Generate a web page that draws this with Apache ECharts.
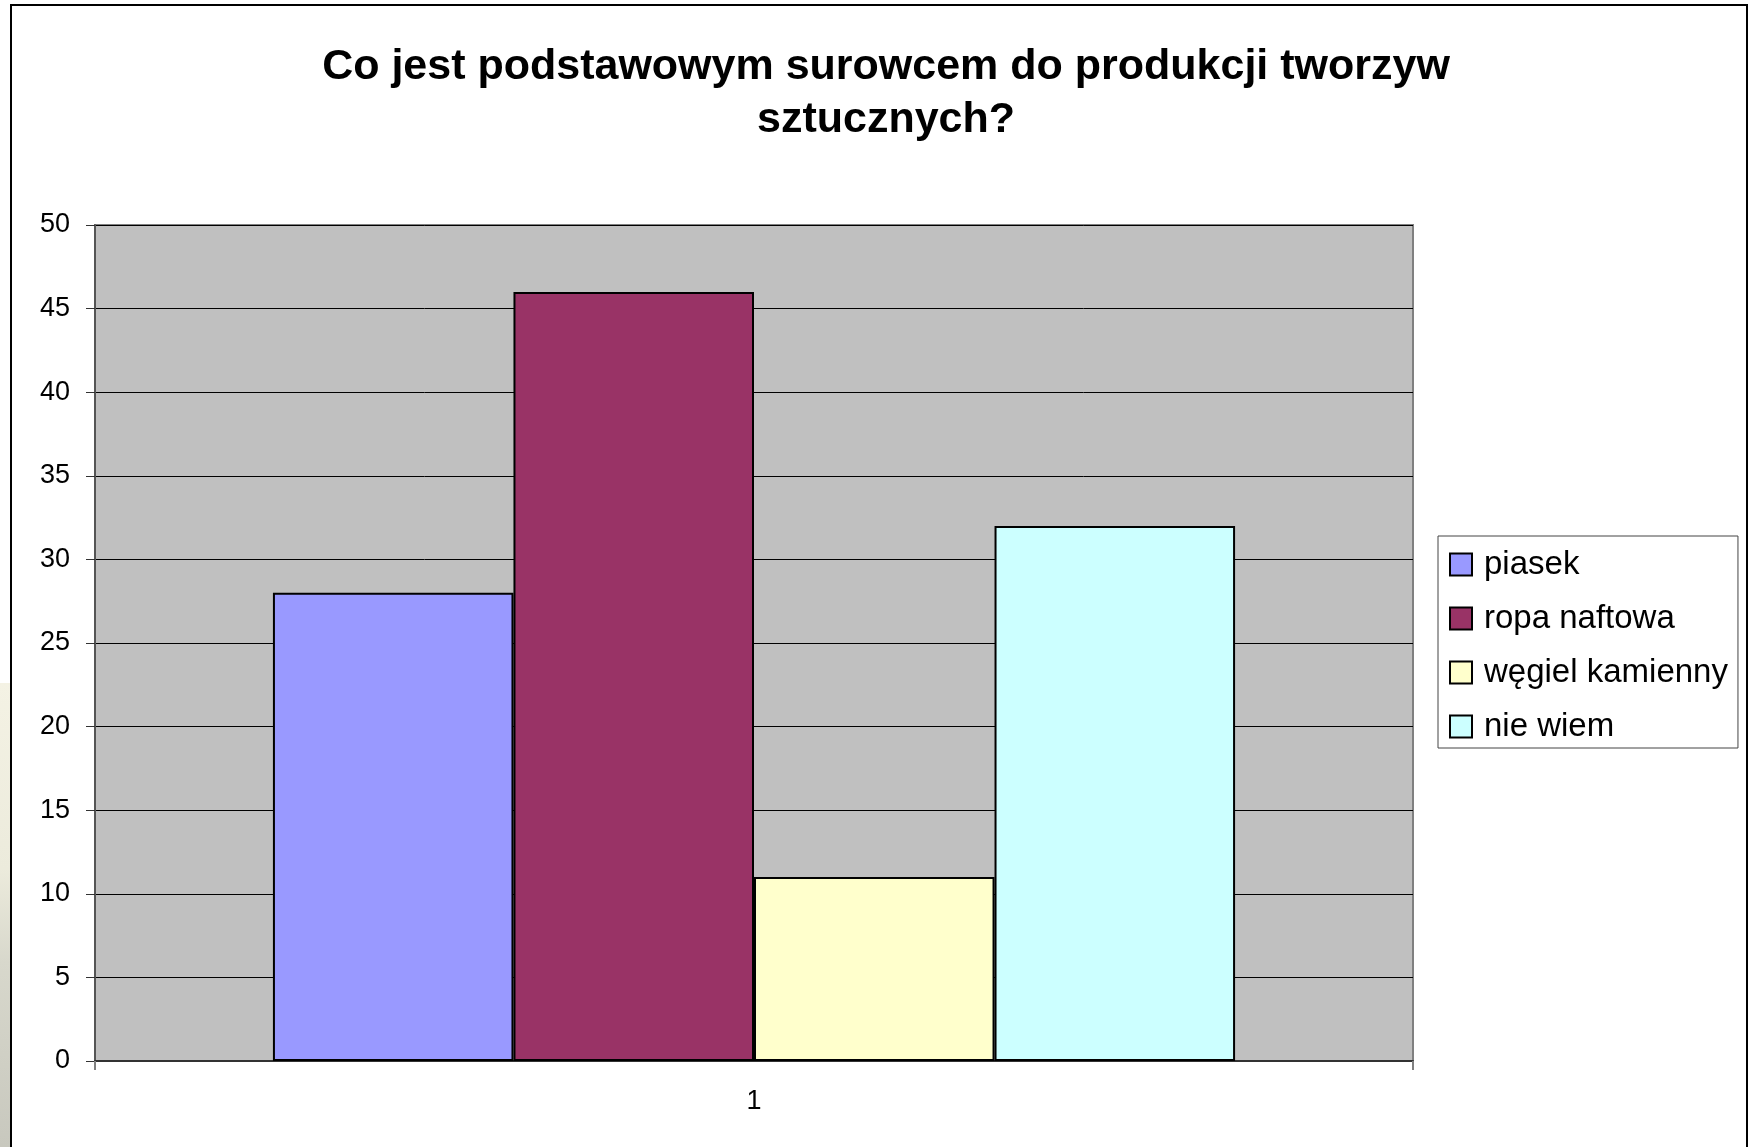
<!DOCTYPE html>
<html>
<head>
<meta charset="utf-8">
<title>Co jest podstawowym surowcem</title>
<script src="https://cdn.jsdelivr.net/npm/echarts@6/dist/echarts.min.js"></script>
<style>
  html, body { margin: 0; padding: 0; background: #fff; overflow: hidden; }
  #strip {
    position: absolute; left: 0; top: 683px; width: 11px; height: 464px;
    background: linear-gradient(#f4f2e4, #ecebdc 40%, #d8d8cc 60%, #c8c8be);
  }
  #frame {
    position: absolute; left: 10px; top: 4px; width: 1734px; height: 1200px;
    border: 2px solid #000;
  }
  #chart { position: absolute; left: 0; top: 0; width: 1749px; height: 1147px; }
</style>
</head>
<body>
<div id="strip"></div>
<div id="frame"></div>
<div id="chart"></div>
<script>
// dane z wykresu
var categories = ["1"];
var seriesNames = ["piasek", "ropa naftowa", "węgiel kamienny", "nie wiem"];
var seriesValues = [[28], [46], [11], [32]];
var seriesColors = ["#9999FF", "#993366", "#FFFFCC", "#CCFFFF"];
var yTicks = { min: 0, max: 50, step: 5 };

var chart = echarts.init(document.getElementById("chart"));

var series = seriesNames.map(function (name, i) {
  return {
    name: name,
    type: "bar",
    data: seriesValues[i],
    barGap: "0%",
    barCategoryGap: "27%",
    itemStyle: {
      color: seriesColors[i],
      borderColor: "#000",
      borderWidth: 2,
    },
  };
});

var option = {
  animation: false,
  title: {
    text: "Co jest podstawowym surowcem do produkcji tworzyw\nsztucznych?",
    left: 881,
    top: 36,
    textAlign: "center",
    textStyle: {
      fontFamily: "Liberation Sans",
      fontSize: 43,
      fontWeight: "bold",
      color: "#000",
      lineHeight: 53,
    },
  },
  legend: {
    orient: "vertical",
    left: 1438,
    top: 536,
    width: 299,
    padding: [12, 10, 5, 11],
    itemGap: 21,
    itemWidth: 22,
    itemHeight: 22,
    icon: "rect",
    backgroundColor: "#fff",
    borderColor: "#444",
    borderWidth: 1,
    borderRadius: 0,
    itemStyle: { borderColor: "#000", borderWidth: 2 },
    textStyle: {
      fontFamily: "Liberation Sans",
      fontSize: 33,
      lineHeight: 33,
      color: "#000",
      padding: [0, 0, 0, 7],
    },
    data: seriesNames,
  },
  grid: {
    left: 95,
    top: 225,
    width: 1318,
    height: 836,
    show: true,
    backgroundColor: "#C0C0C0",
    borderColor: "#808080",
    borderWidth: 2,
  },
  xAxis: {
    type: "category",
    data: categories,
    axisLine: { lineStyle: { color: "#333", width: 2 } },
    axisTick: { show: true, length: 9, lineStyle: { color: "#808080", width: 2 } },
    axisLabel: {
      margin: 27,
      fontFamily: "Liberation Sans",
      fontSize: 27,
      color: "#000",
    },
  },
  yAxis: {
    type: "value",
    min: yTicks.min,
    max: yTicks.max,
    interval: yTicks.step,
    axisLine: { show: true, lineStyle: { color: "#555", width: 2 } },
    axisTick: { show: true, length: 9, lineStyle: { color: "#333", width: 1 } },
    splitLine: { show: true, lineStyle: { color: "#000", width: 1 } },
    axisLabel: {
      margin: 25,
      fontFamily: "Liberation Sans",
      fontSize: 27,
      color: "#000",
    },
  },
  series: series,
};

chart.setOption(option);
</script>
</body>
</html>
